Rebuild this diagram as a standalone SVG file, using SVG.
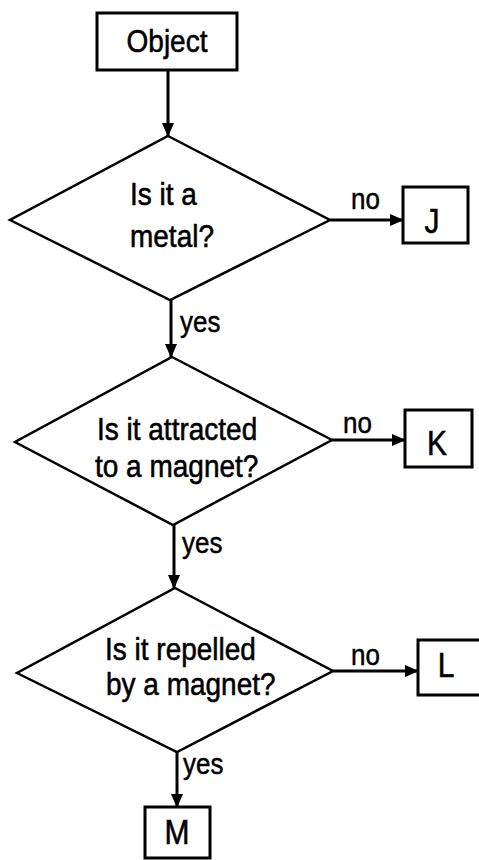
<svg xmlns="http://www.w3.org/2000/svg" width="479" height="860" viewBox="0 0 479 860">
<style>
.box{fill:#fff;stroke:#000;stroke-width:3}
.dia{fill:#fff;stroke:#000;stroke-width:2.5}
.t{font-family:"Liberation Sans",Arial,sans-serif;font-size:28px;fill:#000;stroke:#000;stroke-width:0.5}
.big{font-size:30px}
.lbl{font-family:"Liberation Sans",Arial,sans-serif;font-size:26px;fill:#000;stroke:#000;stroke-width:0.4}
.c{stroke:#000;stroke-width:3;fill:none;marker-end:url(#ah)}
</style>
<defs>
<marker id="ah" markerUnits="userSpaceOnUse" markerWidth="14" markerHeight="12" refX="13" refY="6" orient="auto">
<path d="M0,0 L14,6 L0,12 z" fill="#000"/>
</marker>
</defs>
<rect width="479" height="860" fill="#fff"/>
<g id="connectors">
<line class="c" x1="168" y1="70" x2="168" y2="136"/>
<line class="c" x1="330" y1="220" x2="403" y2="220"/>
<line class="c" x1="171" y1="300" x2="171" y2="357"/>
<line class="c" x1="332" y1="440" x2="405" y2="440"/>
<line class="c" x1="174" y1="525" x2="174" y2="588"/>
<line class="c" x1="333" y1="671" x2="418" y2="671"/>
<line class="c" x1="177" y1="752" x2="177" y2="807"/>
<text class="lbl" transform="translate(351,209) scale(1,1.15)">no</text>
<text class="lbl" transform="translate(180,332) scale(1,1.15)">yes</text>
<text class="lbl" transform="translate(343,433) scale(1,1.15)">no</text>
<text class="lbl" transform="translate(182,553) scale(1,1.15)">yes</text>
<text class="lbl" transform="translate(351,665) scale(1,1.15)">no</text>
<text class="lbl" transform="translate(183,774) scale(1,1.15)">yes</text>
</g>
<g id="object">
<rect class="box" x="97" y="13" width="140" height="57"/>
<text class="t" transform="translate(167,52) scale(1,1.15)" text-anchor="middle">Object</text>
</g>
<g id="q1">
<polygon class="dia" points="168,136 330,220 170,300 10,220"/>
<text class="t" transform="translate(130,205) scale(1,1.15)">Is it a</text>
<text class="t" transform="translate(130,247) scale(1,1.15)">metal?</text>
</g>
<g id="j">
<rect class="box" x="403" y="187" width="65" height="56"/>
<text class="t big" transform="translate(432,233) scale(1,1.15)" text-anchor="middle">J</text>
</g>
<g id="q2">
<polygon class="dia" points="172,357 332,440 173,525 15,442"/>
<text class="t" transform="translate(97,440) scale(1,1.15)">Is it attracted</text>
<text class="t" transform="translate(95,477) scale(1,1.15)">to a magnet?</text>
</g>
<g id="k">
<rect class="box" x="405" y="410" width="67" height="57"/>
<text class="t big" transform="translate(437,455) scale(1,1.15)" text-anchor="middle">K</text>
</g>
<g id="q3">
<polygon class="dia" points="175,588 333,671 177,752 17,673"/>
<text class="t" transform="translate(105,660) scale(1,1.15)">Is it repelled</text>
<text class="t" transform="translate(106,695) scale(1,1.15)">by a magnet?</text>
</g>
<g id="l">
<rect class="box" x="418" y="640" width="64" height="55"/>
<text class="t big" transform="translate(446,677) scale(1,1.15)" text-anchor="middle">L</text>
</g>
<g id="m">
<rect class="box" x="145" y="807" width="65" height="51"/>
<text class="t big" transform="translate(177,844) scale(1,1.15)" text-anchor="middle">M</text>
</g>
</svg>
